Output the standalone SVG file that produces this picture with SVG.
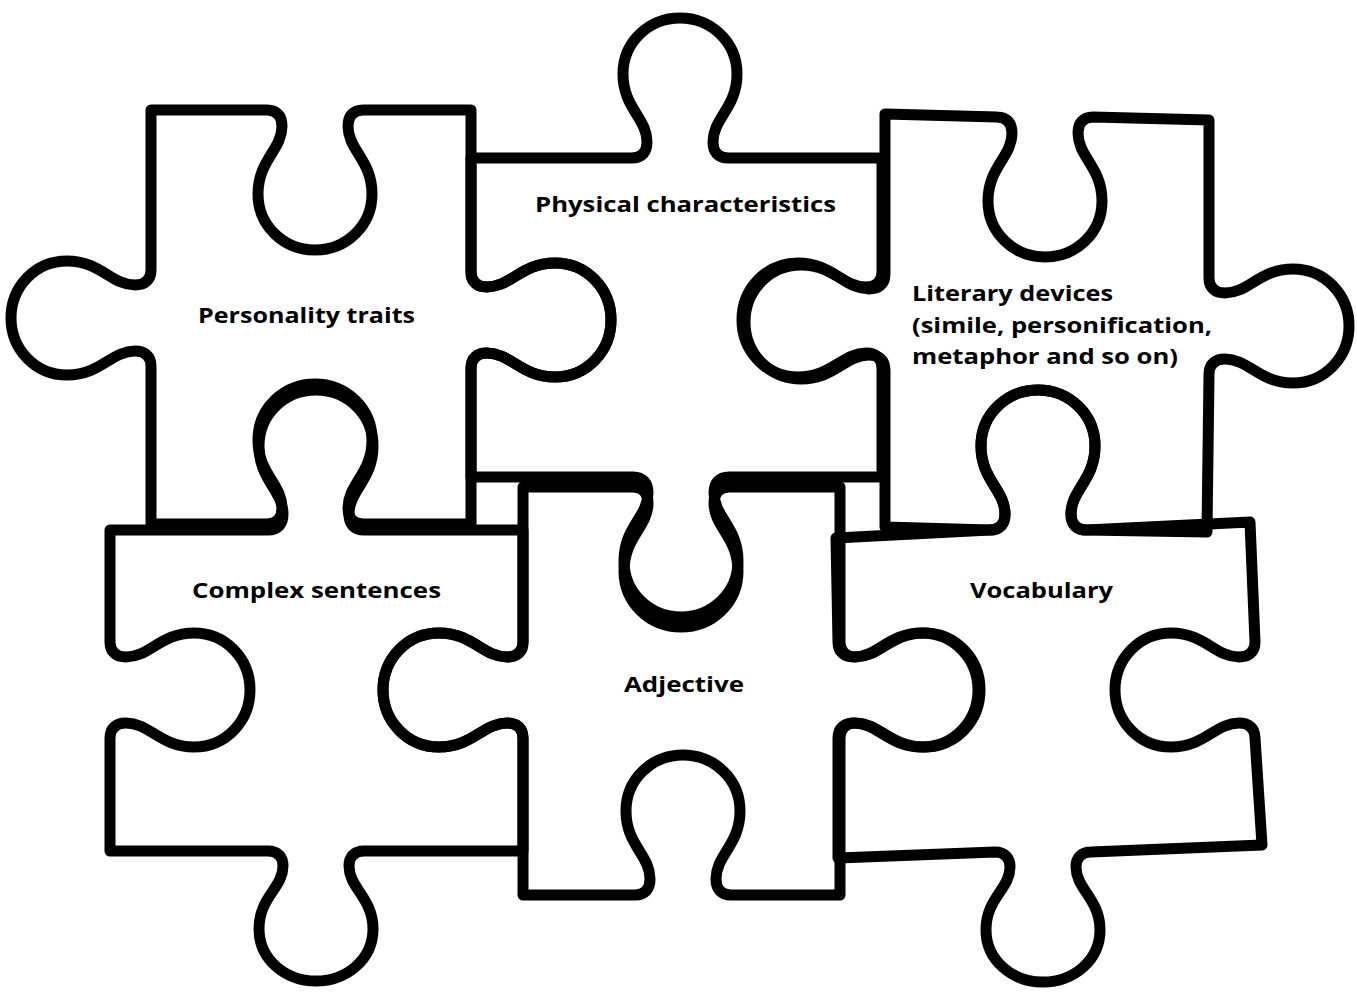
<svg xmlns="http://www.w3.org/2000/svg" width="1357" height="992" viewBox="0 0 1357 992">
<style>
.piece{fill:none;stroke:#000;stroke-width:11;stroke-linejoin:round;stroke-linecap:round}
.lbl{font-family:"Open Sans","Noto Sans","Liberation Sans",sans-serif;font-weight:700;font-size:22px;fill:#000}
</style>
<rect x="0" y="0" width="1357" height="992" fill="#fff"/>
<g id="piece-personality">
<path class="piece" d="M151,110 L267,110 c10,0 15,6 15,16 c0,24 -24,34 -24,68 c0,32 26,56 57,56 c31,0 57,-24 57,-56 c0,-34 -24,-44 -24,-68 c0,-10 5,-16 15,-16 L471,110 L471,272 c0,10 6,15 16,15 c24,0 34,-24 68,-24 c32,0 56,26 56,57 c0,31 -24,57 -56,57 c-34,0 -44,-24 -68,-24 c-10,0 -16,5 -16,15 L471,524 L363,524 c-10,0 -15,-6 -15,-16 c0,-24 24,-34 24,-68 c0,-32 -26,-56 -57,-56 c-31,0 -57,24 -57,56 c0,34 24,44 24,68 c0,10 -5,16 -15,16 L151,524 L151,366 c0,-10 -6,-15 -16,-15 c-24,0 -34,24 -68,24 c-32,0 -56,-26 -56,-57 c0,-31 24,-57 56,-57 c34,0 44,24 68,24 c10,0 16,-5 16,-15 Z"/>
<text class="lbl" x="198" y="323" textLength="217" lengthAdjust="spacingAndGlyphs">Personality traits</text>
</g>
<g id="piece-physical">
<path class="piece" d="M471,158 L632,158 c10,0 15,-6 15,-16 c0,-24 -24,-34 -24,-68 c0,-32 26,-56 57,-56 c31,0 57,24 57,56 c0,34 -24,44 -24,68 c0,10 5,16 15,16 L882,158 L882,272 c0,10 -6,15 -16,15 c-24,0 -34,-24 -68,-24 c-32,0 -56,26 -56,57 c0,31 24,57 56,57 c34,0 44,-24 68,-24 c10,0 16,5 16,15 L882,477 L729,477 c-10,0 -15,6 -15,16 c0,24 24,34 24,68 c0,32 -26,56 -57,56 c-31,0 -57,-24 -57,-56 c0,-34 24,-44 24,-68 c0,-10 -5,-16 -15,-16 L471,477 L471,368 c0,-10 6,-15 16,-15 c24,0 34,24 68,24 c32,0 56,-26 56,-57 c0,-31 -24,-57 -56,-57 c-34,0 -44,24 -68,24 c-10,0 -16,-5 -16,-15 Z"/>
<text class="lbl" x="535" y="212" textLength="301" lengthAdjust="spacingAndGlyphs">Physical characteristics</text>
</g>
<g id="piece-literary">
<path class="piece" d="M885,114 L997,117 c10,0 15,6 15,16 c0,24 -24,34 -24,68 c0,32 26,56 57,56 c31,0 57,-24 57,-56 c0,-34 -24,-44 -24,-68 c0,-10 5,-16 15,-16 L1209,120 L1209,278 c0,10 6,15 16,15 c24,0 34,-24 68,-24 c32,0 56,26 56,57 c0,31 -24,57 -56,57 c-34,0 -44,-24 -68,-24 c-10,0 -16,5 -16,15 L1207,532 L1086,530 c-10,0 -15,-6 -15,-16 c0,-24 24,-34 24,-68 c0,-32 -26,-56 -57,-56 c-31,0 -57,24 -57,56 c0,34 24,44 24,68 c0,10 -5,16 -15,16 L885,527 L885,370 c0,-10 -6,-15 -16,-15 c-24,0 -34,24 -68,24 c-32,0 -56,-26 -56,-57 c0,-31 24,-57 56,-57 c34,0 44,24 68,24 c10,0 16,-5 16,-15 Z"/>
<text class="lbl" x="912" y="301" textLength="201" lengthAdjust="spacingAndGlyphs">Literary devices</text>
<text class="lbl" x="912" y="333" textLength="300" lengthAdjust="spacingAndGlyphs">(simile, personification,</text>
<text class="lbl" x="912" y="364" textLength="266" lengthAdjust="spacingAndGlyphs">metaphor and so on)</text>
</g>
<g id="piece-complex">
<path class="piece" d="M110,530 L268,530 c10,0 15,-6 15,-16 c0,-24 -24,-34 -24,-68 c0,-32 26,-56 57,-56 c31,0 57,24 57,56 c0,34 -24,44 -24,68 c0,10 5,16 15,16 L523,530 L523,642 c0,10 -6,15 -16,15 c-24,0 -34,-24 -68,-24 c-32,0 -56,26 -56,57 c0,31 24,57 56,57 c34,0 44,-24 68,-24 c10,0 16,5 16,15 L523,851 L364,851 c-10,0 -15,6 -15,15 c0,22 24,32 24,63 c0,30 -26,52 -57,52 c-31,0 -57,-22 -57,-52 c0,-32 24,-41 24,-63 c0,-9 -5,-15 -15,-15 L110,851 L110,738 c0,-10 6,-15 16,-15 c24,0 34,24 68,24 c32,0 56,-26 56,-57 c0,-31 -24,-57 -56,-57 c-34,0 -44,24 -68,24 c-10,0 -16,-5 -16,-15 Z"/>
<text class="lbl" x="192" y="598" textLength="249" lengthAdjust="spacingAndGlyphs">Complex sentences</text>
</g>
<g id="piece-adjective">
<path class="piece" d="M523,487 L633,487 c10,0 15,6 15,16 c0,24 -24,34 -24,68 c0,32 26,56 57,56 c31,0 57,-24 57,-56 c0,-34 -24,-44 -24,-68 c0,-10 5,-16 15,-16 L840,487 L840,642 c0,10 6,15 16,15 c24,0 34,-24 68,-24 c32,0 56,26 56,57 c0,31 -24,57 -56,57 c-34,0 -44,-24 -68,-24 c-10,0 -16,5 -16,15 L840,895 L731,895 c-10,0 -15,-6 -15,-16 c0,-24 24,-34 24,-68 c0,-32 -26,-56 -57,-56 c-31,0 -57,24 -57,56 c0,34 24,44 24,68 c0,10 -5,16 -15,16 L523,895 L523,738 c0,-10 -6,-15 -16,-15 c-24,0 -34,24 -68,24 c-32,0 -56,-26 -56,-57 c0,-31 24,-57 56,-57 c34,0 44,24 68,24 c10,0 16,-5 16,-15 Z"/>
<text class="lbl" x="624" y="692" textLength="120" lengthAdjust="spacingAndGlyphs">Adjective</text>
</g>
<g id="piece-vocabulary">
<path class="piece" d="M836,538 L990,530 c10,0 15,-6 15,-16 c0,-24 -24,-34 -24,-68 c0,-32 26,-56 57,-56 c31,0 57,24 57,56 c0,34 -24,44 -24,68 c0,10 5,16 15,16 L1250,522 L1255,642 c0,10 -6,15 -16,15 c-24,0 -34,-24 -68,-24 c-32,0 -56,26 -56,57 c0,31 24,57 56,57 c34,0 44,-24 68,-24 c10,0 16,5 16,15 L1262,845 L1091,852 c-10,0 -15,6 -15,15 c0,22 24,32 24,63 c0,30 -26,52 -57,52 c-31,0 -57,-22 -57,-52 c0,-32 24,-41 24,-63 c0,-9 -5,-15 -15,-15 L838,858 L838,738 c0,-10 6,-15 16,-15 c24,0 34,24 68,24 c32,0 56,-26 56,-57 c0,-31 -24,-57 -56,-57 c-34,0 -44,24 -68,24 c-10,0 -16,-5 -16,-15 Z"/>
<text class="lbl" x="970" y="598" textLength="143" lengthAdjust="spacingAndGlyphs">Vocabulary</text>
</g>
</svg>
